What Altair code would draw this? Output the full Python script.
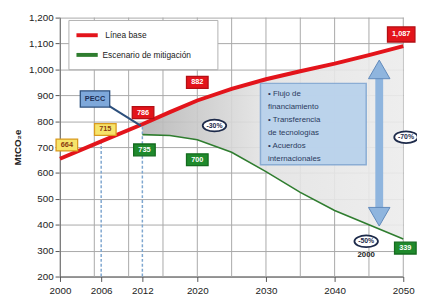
import altair as alt
import pandas as pd

# ---- data ----
base_years = [2000, 2006, 2012, 2016, 2020, 2025, 2030, 2035, 2040, 2045, 2050]
base_vals = [655, 722, 788, 835, 880, 925, 962, 993, 1022, 1055, 1090]
mit_years = [2012, 2016, 2020, 2025, 2030, 2035, 2040, 2045, 2050]
mit_vals = [748, 745, 728, 680, 605, 525, 455, 400, 345]

x_tick_labels = [2000, 2006, 2012, 2020, 2030, 2040, 2050]
x_grid_years = [2000, 2005, 2010, 2015, 2020, 2025, 2030, 2035, 2040, 2045, 2050]
y_ticks = [200, 300, 400, 500, 600, 700, 800, 900, 1000, 1100, 1200]

series_names = ["Línea base", "Escenario de mitigación"]
series_colors = ["#e3141b", "#2f7d2f"]
series_widths = [4, 1.6]

# value boxes: text, year, value, kind
box_text = ["664", "715", "786", "735", "882", "700", "1,087", "339", "PECC"]
box_year = [2001.0, 2006.6, 2012.1, 2012.3, 2020.0, 2020.0, 2049.7, 2050.3, 2005.1]
box_val = [708, 768, 833, 689, 950, 651, 1135, 310, 886]
box_kind = ["yellow", "yellow", "red", "green", "red", "green", "red", "green", "blue"]

oval_text = ["-30%", "-70%", "-50%"]
oval_year = [2022.5, 2050.4, 2044.6]
oval_val = [783, 738, 336]

box_lines = ["• Flujo de", "  financiamiento", "• Transferencia", "  de tecnologías",
             "• Acuerdos", "  internacionales"]

FONT = "Liberation Sans"

# ---- tables ----
base_df = pd.DataFrame({"year": base_years, "value": base_vals, "serie": series_names[0]})
mit_df = pd.DataFrame({"year": mit_years, "value": mit_vals, "serie": series_names[1]})
lines_df = pd.concat([base_df, mit_df])
bmap = dict(zip(base_years, base_vals))
area_df = pd.DataFrame({"year": mit_years, "hi": [bmap[y] for y in mit_years], "lo": mit_vals})

kind_fill = {"yellow": "#f6e46a", "red": "#e3141b", "green": "#1f8a2c", "blue": "#7ea8da"}
kind_stroke = {"yellow": "#d99a1e", "red": "#b30f14", "green": "#156b1f", "blue": "#2c4f7c"}
kind_text = {"yellow": "#8a3b10", "red": "#ffffff", "green": "#ffffff", "blue": "#1c2f55"}
RECT = "M-1,-0.55L1,-0.55L1,0.55L-1,0.55Z"
boxes_df = pd.DataFrame({
    "year": box_year, "value": box_val, "text": box_text,
    "fill": [kind_fill[k] for k in box_kind],
    "stroke": [kind_stroke[k] for k in box_kind],
    "tcolor": [kind_text[k] for k in box_kind],
    "size": [(30 if t == "PECC" else (28 if t == "1,087" else 22)) ** 2 for t in box_text],
})
ovals_df = pd.DataFrame({"year": oval_year, "value": oval_val, "text": oval_text})

xs = alt.Scale(domain=[2000, 2050], nice=False, zero=False)
ys = alt.Scale(domain=[200, 1200], nice=False, zero=False)
X = lambda f="year": alt.X(f"{f}:Q", scale=xs, axis=alt.Axis(values=x_tick_labels, format="d", grid=False, title=None,
                                                            labelFont=FONT, labelFontSize=10, labelColor="#222",
                                                            domainColor="#555", tickColor="#555", labelPadding=4,
                                                            labelFlush=False))
Y = lambda f="value": alt.Y(f"{f}:Q", scale=ys, axis=alt.Axis(values=y_ticks, format=",d", grid=True, gridColor="#a8a8a8",
                                                             title="MtCO₂e", titleFont=FONT, titleFontSize=10,
                                                             titleColor="#222", titlePadding=6,
                                                             labelFont=FONT, labelFontSize=10, labelColor="#222",
                                                             domainColor="#555", tickColor="#555"))

grid = alt.Chart(pd.DataFrame({"year": x_grid_years})).mark_rule(color="#a8a8a8", strokeWidth=1).encode(x=X())

area = alt.Chart(area_df).mark_area(
    color=alt.Gradient(gradient="linear",
                       stops=[alt.GradientStop(color="#b4b4b4", offset=0),
                              alt.GradientStop(color="#e2e2e2", offset=0.45),
                              alt.GradientStop(color="#ececec", offset=1)],
                       x1=0, x2=1, y1=0, y2=0),
    opacity=0.9,
).encode(x=X(), y=Y("hi"), y2="lo:Q")

dash_df = pd.DataFrame({"year": [2006, 2012], "lo": [200, 200], "hi": [bmap[2006], bmap[2012]]})
dashes = alt.Chart(dash_df).mark_rule(color="#7ea6cf", strokeWidth=1.5, strokeDash=[3, 2]).encode(
    x=X(), y=Y("lo"), y2="hi:Q")

lines = alt.Chart(lines_df).mark_line().encode(
    x=X(), y=Y(),
    color=alt.Color("serie:N", scale=alt.Scale(domain=series_names, range=series_colors), legend=None),
    strokeWidth=alt.StrokeWidth("serie:N", scale=alt.Scale(domain=series_names, range=series_widths), legend=None),
)

# hand-made legend box (top-left, as in the reference)
leg_box = alt.Chart(pd.DataFrame({"x1": [2001.3], "x2": [2023.0], "y1": [1189], "y2": [999]})).mark_rect(
    fill="white", stroke="#b0b0b0", strokeWidth=1).encode(x=X("x1"), x2="x2:Q", y=Y("y1"), y2="y2:Q")
leg_df = pd.DataFrame({"x1": [2002.4, 2002.4], "x2": [2005.5, 2005.5], "value": [1132, 1056],
                       "serie": series_names, "tx": [2006.6, 2006.2]})
leg_lines = alt.Chart(leg_df).mark_rule(strokeWidth=4).encode(
    x=X("x1"), x2="x2:Q", y=Y(),
    color=alt.Color("serie:N", scale=alt.Scale(domain=series_names, range=series_colors), legend=None))
leg_text = alt.Chart(leg_df).mark_text(align="left", baseline="middle", font=FONT, fontSize=8.5,
                                       color="#222").encode(x=X("tx"), y=Y(), text="serie:N")

conn_df = pd.DataFrame({"x1": [2006.9], "x2": [2011.8], "y1": [863], "y2": [782]})
connector = alt.Chart(conn_df).mark_rule(color="#2c4f7c", strokeWidth=2).encode(
    x=X("x1"), x2="x2:Q", y=Y("y1"), y2="y2:Q")

tb_df = pd.DataFrame({"x1": [2029.2], "x2": [2044.6], "y1": [946], "y2": [632]})
textbox = alt.Chart(tb_df).mark_rect(fill="#b9d2ec", stroke="#86aad3", strokeWidth=1.5, opacity=0.95).encode(
    x=X("x1"), x2="x2:Q", y=Y("y1"), y2="y2:Q")
tl_df = pd.DataFrame({"year": [2030.3] * 6, "value": [905, 855, 805, 755, 705, 655], "text": box_lines})
textlines = alt.Chart(tl_df).mark_text(align="left", baseline="middle", font=FONT, fontSize=8,
                                       color="#2a3a5c").encode(x=X(), y=Y(), text="text:N")

arr_df = pd.DataFrame({"year": [2046.5], "lo": [430], "hi": [1000]})
arrow_shaft = alt.Chart(arr_df).mark_rule(color="#8fb5de", strokeWidth=8).encode(x=X(), y=Y("lo"), y2="hi:Q")
head_df = pd.DataFrame({"year": [2046.5, 2046.5], "value": [1000, 431],
                        "shape": ["triangle-up", "triangle-down"]})
arrow_heads = alt.Chart(head_df).mark_point(filled=True, fill="#8fb5de", stroke="#5f89bb", strokeWidth=1,
                                            size=480, opacity=1).encode(
    x=X(), y=Y(), shape=alt.Shape("shape:N", scale=None))

boxes = alt.Chart(boxes_df).mark_point(filled=True, shape=RECT, strokeWidth=1.3, opacity=1).encode(
    x=X(), y=Y(), fill=alt.Fill("fill:N", scale=None), stroke=alt.Stroke("stroke:N", scale=None),
    size=alt.Size("size:Q", scale=None))
box_labels = alt.Chart(boxes_df).mark_text(font=FONT, fontSize=7.5, fontWeight="bold", baseline="middle").encode(
    x=X(), y=Y(), text="text:N", fill=alt.Fill("tcolor:N", scale=None))

OVAL = "M-1,0A1,0.5,0,1,1,1,0A1,0.5,0,1,1,-1,0Z"
ovals = alt.Chart(ovals_df).mark_point(filled=True, shape=OVAL, fill="white", stroke="#1d2a4a",
                                       strokeWidth=1.8, size=576, opacity=1).encode(x=X(), y=Y())
oval_labels = alt.Chart(ovals_df).mark_text(font=FONT, fontSize=7, fontWeight="bold", color="#1d2a4a",
                                            baseline="middle").encode(x=X(), y=Y(), text="text:N")
yr_df = pd.DataFrame({"year": [2044.6], "value": [284], "text": ["2000"]})
yr_label = alt.Chart(yr_df).mark_text(font=FONT, fontSize=8, fontWeight="bold", color="#222").encode(
    x=X(), y=Y(), text="text:N")

chart = alt.layer(
    grid, area, dashes, lines, leg_box, leg_lines, leg_text, connector, textbox, textlines,
    arrow_shaft, arrow_heads, boxes, box_labels, ovals, oval_labels, yr_label
).properties(
    width=350, height=264,
    autosize=alt.AutoSizeParams(type="none"),
    padding={"left": 53, "top": 7, "right": 14, "bottom": 16},
).configure_view(stroke=None)

chart.save("out.html", embed_options={"renderer": "svg", "actions": False})
